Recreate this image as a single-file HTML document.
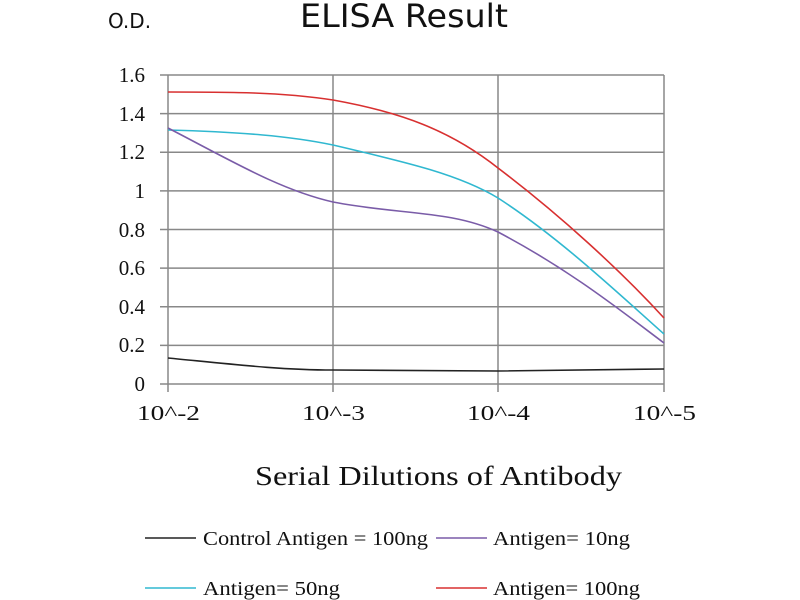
<!DOCTYPE html>
<html><head><meta charset="utf-8"><style>
html,body{margin:0;padding:0;background:#fff;width:800px;height:600px;overflow:hidden}
</style></head><body>
<svg width="800" height="600" xmlns="http://www.w3.org/2000/svg">
<rect width="800" height="600" fill="#fff"/>
<text x="108" y="28" font-family="DejaVu Sans, sans-serif" font-size="20" fill="#111">O.D.</text>
<text x="300" y="27" font-family="DejaVu Sans, sans-serif" font-size="32" fill="#111" textLength="208" lengthAdjust="spacingAndGlyphs">ELISA Result</text>
<g stroke="#888" stroke-width="1.5" fill="none">
<line x1="160" y1="75" x2="664" y2="75"/>
<line x1="160" y1="113.6" x2="664" y2="113.6"/>
<line x1="160" y1="152.3" x2="664" y2="152.3"/>
<line x1="160" y1="190.9" x2="664" y2="190.9"/>
<line x1="160" y1="229.5" x2="664" y2="229.5"/>
<line x1="160" y1="268.1" x2="664" y2="268.1"/>
<line x1="160" y1="306.8" x2="664" y2="306.8"/>
<line x1="160" y1="345.4" x2="664" y2="345.4"/>
<line x1="160" y1="384" x2="664" y2="384"/>
<line x1="168" y1="75" x2="168" y2="392"/>
<line x1="333" y1="75" x2="333" y2="392"/>
<line x1="498" y1="75" x2="498" y2="392"/>
<line x1="664" y1="75" x2="664" y2="392"/>
</g>
<g font-family="Liberation Serif, serif" font-size="21" fill="#111" text-anchor="end">
<text x="145" y="82">1.6</text><text x="145" y="121">1.4</text><text x="145" y="159">1.2</text>
<text x="145" y="198">1</text><text x="145" y="237">0.8</text><text x="145" y="275">0.6</text>
<text x="145" y="314">0.4</text><text x="145" y="352">0.2</text><text x="145" y="391">0</text>
</g>
<g font-family="Liberation Serif, serif" font-size="21" fill="#111">
<text x="137" y="420" textLength="63" lengthAdjust="spacingAndGlyphs">10^-2</text><text x="302" y="420" textLength="63" lengthAdjust="spacingAndGlyphs">10^-3</text>
<text x="467" y="420" textLength="63" lengthAdjust="spacingAndGlyphs">10^-4</text><text x="633" y="420" textLength="63" lengthAdjust="spacingAndGlyphs">10^-5</text>
</g>
<text x="255" y="485" font-family="Liberation Serif, serif" font-size="27" fill="#111" textLength="367" lengthAdjust="spacingAndGlyphs">Serial Dilutions of Antibody</text>
<g fill="none" stroke-width="1.6">
<path d="M168,92 C230,92 280,92 333,100 C400,112 450,130 498,168 C560,215 620,270 664,318" stroke="#d83030"/>
<path d="M168,130 C240,132 290,136 333,145 C410,163 460,175 498,198 C560,238 620,295 664,334" stroke="#30b8d0"/>
<path d="M168,128 C230,160 280,190 333,202 C400,215 450,210 498,232 C570,270 620,310 664,343" stroke="#7a5ca8"/>
<path d="M168,358 C230,364 280,370 333,370 C420,371 470,371 498,371 C580,370 630,369 664,369" stroke="#222"/>
</g>
<g font-family="Liberation Serif, serif" font-size="20" fill="#111">
<line x1="145" y1="538" x2="196" y2="538" stroke="#222" stroke-width="1.6"/>
<text x="203" y="545" textLength="225" lengthAdjust="spacingAndGlyphs">Control Antigen = 100ng</text>
<line x1="436" y1="538" x2="487" y2="538" stroke="#7a5ca8" stroke-width="1.6"/>
<text x="493" y="545" textLength="137" lengthAdjust="spacingAndGlyphs">Antigen= 10ng</text>
<line x1="145" y1="588" x2="196" y2="588" stroke="#30b8d0" stroke-width="1.6"/>
<text x="203" y="595" textLength="137" lengthAdjust="spacingAndGlyphs">Antigen= 50ng</text>
<line x1="436" y1="588" x2="487" y2="588" stroke="#d83030" stroke-width="1.6"/>
<text x="493" y="595" textLength="147" lengthAdjust="spacingAndGlyphs">Antigen= 100ng</text>
</g>
</svg>
</body></html>
